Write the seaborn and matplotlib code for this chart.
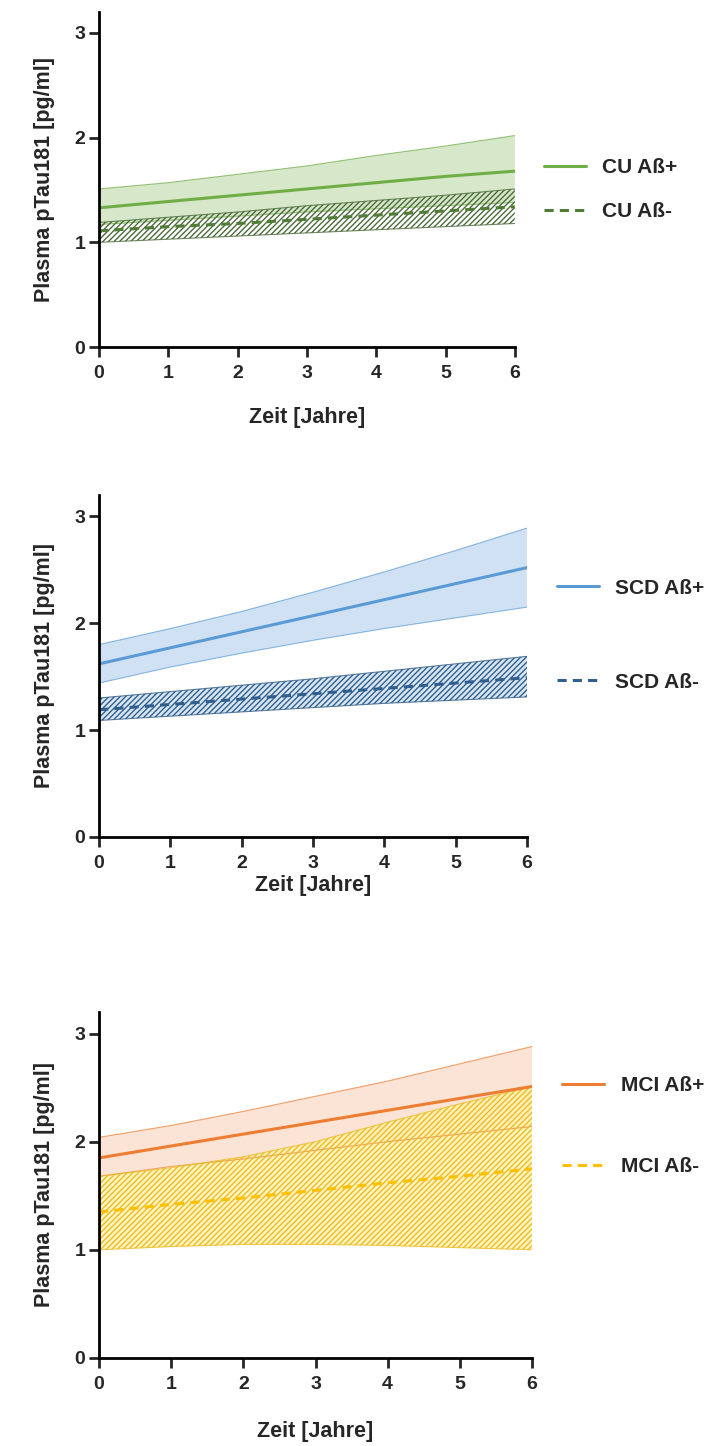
import numpy as np
import pandas as pd
import matplotlib
matplotlib.use("Agg")
import matplotlib.pyplot as plt
from matplotlib import font_manager
import seaborn as sns

# years of follow-up
years = [0, 1, 2, 3, 4, 5, 6]

# CU group
cu_pos_mean = [1.33, 1.39, 1.45, 1.51, 1.57, 1.63, 1.68]
cu_pos_hi = [1.51, 1.57, 1.65, 1.73, 1.83, 1.92, 2.02]
cu_pos_lo = [1.17, 1.21, 1.25, 1.29, 1.32, 1.35, 1.38]
cu_neg_mean = [1.11, 1.15, 1.18, 1.22, 1.26, 1.30, 1.34]
cu_neg_hi = [1.19, 1.24, 1.29, 1.35, 1.40, 1.45, 1.51]
cu_neg_lo = [1.00, 1.03, 1.06, 1.09, 1.12, 1.15, 1.18]

# SCD group
scd_pos_mean = [1.62, 1.77, 1.92, 2.07, 2.22, 2.37, 2.52]
scd_pos_hi = [1.80, 1.95, 2.11, 2.29, 2.48, 2.68, 2.89]
scd_pos_lo = [1.44, 1.59, 1.72, 1.84, 1.95, 2.05, 2.15]
scd_neg_mean = [1.19, 1.24, 1.29, 1.34, 1.39, 1.44, 1.49]
scd_neg_hi = [1.30, 1.36, 1.42, 1.48, 1.55, 1.62, 1.69]
scd_neg_lo = [1.09, 1.13, 1.17, 1.21, 1.25, 1.28, 1.31]

# MCI group
mci_pos_mean = [1.85, 1.96, 2.07, 2.18, 2.29, 2.40, 2.51]
mci_pos_hi = [2.04, 2.15, 2.28, 2.42, 2.56, 2.72, 2.88]
mci_pos_lo = [1.68, 1.77, 1.84, 1.92, 2.00, 2.07, 2.14]
mci_neg_mean = [1.35, 1.42, 1.48, 1.55, 1.62, 1.68, 1.75]
mci_neg_hi = [1.68, 1.76, 1.86, 2.00, 2.18, 2.35, 2.51]
mci_neg_lo = [1.00, 1.03, 1.05, 1.05, 1.04, 1.02, 1.00]

sns.set_style("white")
names = {f.name for f in font_manager.fontManager.ttflist}
font = "Liberation Sans Narrow" if "Liberation Sans Narrow" in names else "Liberation Sans"
plt.rcParams["font.family"] = [font, "DejaVu Sans"]
plt.rcParams["font.weight"] = "bold"
plt.rcParams["hatch.linewidth"] = 1.0

fig = plt.figure(figsize=(7.13, 14.46), dpi=100)

panels = [
    dict(rect=[0.139, 0.760, 0.583, 0.2317], grp="CU",
         pos=(cu_pos_mean, cu_pos_lo, cu_pos_hi), neg=(cu_neg_mean, cu_neg_lo, cu_neg_hi),
         c_pos="#70ad47", f_pos="#d6e8c9", c_neg="#4f7d37", f_neg="none", h_neg="#4d6b3c",
         leg_y=0.47, spacing=1.2, lab_pad=18),
    dict(rect=[0.139, 0.4212, 0.600, 0.2365], grp="SCD",
         pos=(scd_pos_mean, scd_pos_lo, scd_pos_hi), neg=(scd_neg_mean, scd_neg_lo, scd_neg_hi),
         c_pos="#5b9bd5", f_pos="#cfe1f3", c_neg="#2f5f8f", f_neg="#cfe1f3", h_neg="#345f8a",
         leg_y=0.59, spacing=3.6, lab_pad=2),
    dict(rect=[0.139, 0.0609, 0.607, 0.2393], grp="MCI",
         pos=(mci_pos_mean, mci_pos_lo, mci_pos_hi), neg=(mci_neg_mean, mci_neg_lo, mci_neg_hi),
         c_pos="#ed7d31", f_pos="#fbe3d5", c_neg="#ffc000", f_neg="#fff1b0", h_neg="#ebbd25",
         leg_y=0.67, spacing=3.0, lab_pad=20),
]

for p in panels:
    ax = fig.add_axes(p["rect"])
    m_pos, lo_pos, hi_pos = p["pos"]
    m_neg, lo_neg, hi_neg = p["neg"]

    # confidence bands
    ax.fill_between(years, lo_pos, hi_pos, facecolor=p["f_pos"], edgecolor="none", zorder=1)
    ax.plot(years, hi_pos, color=p["c_pos"], lw=0.8, alpha=0.7, zorder=2)
    ax.plot(years, lo_pos, color=p["c_pos"], lw=0.8, alpha=0.7, zorder=2)
    if p["f_neg"] != "none":
        ax.fill_between(years, lo_neg, hi_neg, facecolor=p["f_neg"], edgecolor="none",
                        alpha=0.8, zorder=1.5)
    ax.fill_between(years, lo_neg, hi_neg, facecolor="none", edgecolor=p["h_neg"],
                    hatch="//////", linewidth=0, zorder=2)
    ax.plot(years, hi_neg, color=p["h_neg"], lw=0.8, alpha=0.8, zorder=2)
    ax.plot(years, lo_neg, color=p["h_neg"], lw=0.8, alpha=0.8, zorder=2)

    df = pd.DataFrame({
        "Zeit": years * 2,
        "pTau": m_pos + m_neg,
        "Gruppe": [p["grp"] + " Aß+"] * len(years) + [p["grp"] + " Aß-"] * len(years),
    })
    sns.lineplot(data=df, x="Zeit", y="pTau", hue="Gruppe", style="Gruppe",
                 palette=[p["c_pos"], p["c_neg"]], dashes=[(None, None), (3, 2)],
                 linewidth=2.2, ax=ax, zorder=3)

    ax.set_xlim(0, 6)
    ax.set_ylim(0, 3.2)
    ax.set_xticks(range(7))
    ax.set_yticks([0, 1, 2, 3])
    ax.set_xlabel("Zeit [Jahre]", fontsize=15.5, fontweight="bold", labelpad=p["lab_pad"])
    ax.set_ylabel("Plasma pTau181 [pg/ml]", fontsize=15.5, fontweight="bold", labelpad=14)
    ax.tick_params(axis="both", direction="out", length=7, width=2, labelsize=14, pad=3,
                   left=True, bottom=True)
    ax.tick_params(axis="x", pad=6)
    for t in ax.get_xticklabels() + ax.get_yticklabels():
        t.set_fontweight("bold")
    sns.despine(ax=ax)
    for s in ("left", "bottom"):
        ax.spines[s].set_linewidth(2)
        ax.spines[s].set_color("black")
    ax.spines["left"].set_zorder(5)

    ax.legend(loc="center left", bbox_to_anchor=(1.07, p["leg_y"]), frameon=False,
              handlelength=2.0, handletextpad=0.8,
              labelspacing=p["spacing"], borderaxespad=0, borderpad=0,
              prop={"weight": "bold", "size": 15})

fig.savefig("out.png", dpi=100)
